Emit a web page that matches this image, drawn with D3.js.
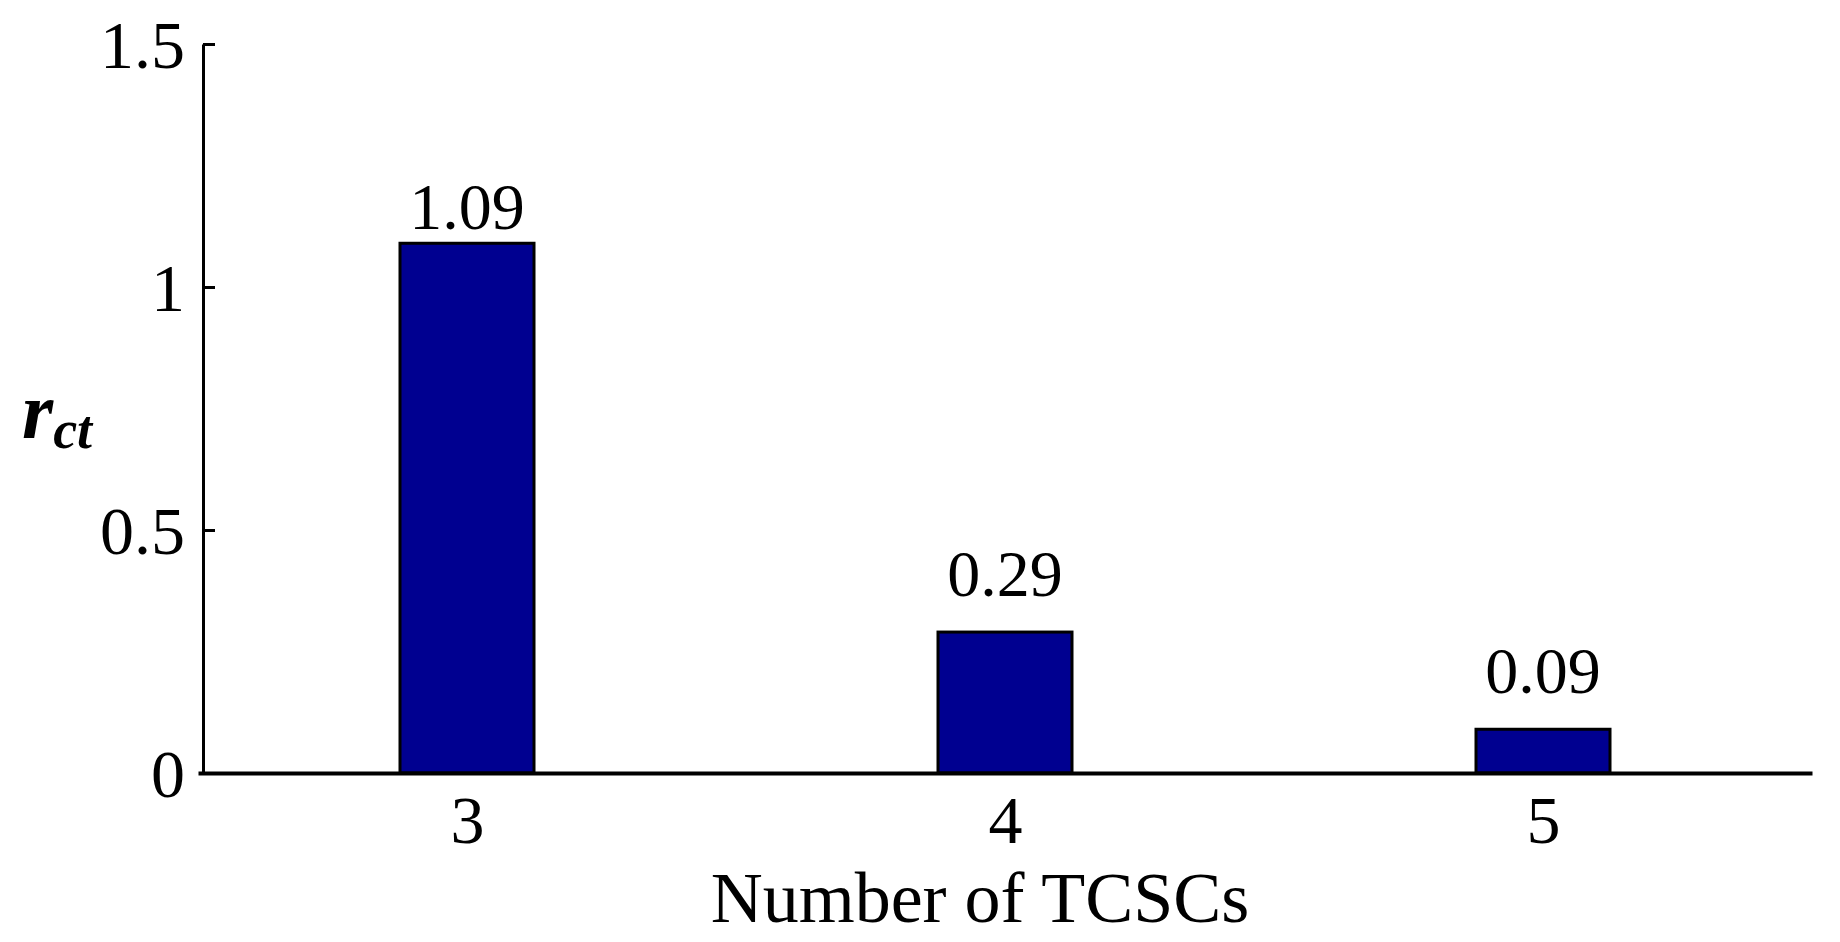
<!DOCTYPE html><html><head><script src="https://d3js.org/d3.v7.min.js"></script>
<style>body{margin:0;background:#fff}</style></head><body><svg width="1840" height="942"></svg><script>
const categories=[3,4,5];
const values=[1.09,0.29,0.09];
const labels=["1.09","0.29","0.09"];
const yTicks=[0,0.5,1,1.5];
const yTickLabels=["0","0.5","1","1.5"];
const svg=d3.select("svg");
const font="'Liberation Serif','Times New Roman',serif";
const x=d3.scaleLinear().domain([2.5,5.5]).range([198,1812]);
const y=d3.scaleLinear().domain([0,1.5]).range([773,44]);
const bw=134;
svg.selectAll("rect").data(values).enter().append("rect")
 .attr("x",(d,i)=>x(categories[i])-bw/2).attr("width",bw)
 .attr("y",d=>y(d)).attr("height",d=>y(0)-y(d))
 .attr("fill","#000090").attr("stroke","#000").attr("stroke-width",3);
svg.selectAll(".vl").data(values).enter().append("text")
 .attr("x",(d,i)=>x(categories[i])).attr("y",(d,i)=>y(d)-(i===0?14:36))
 .attr("text-anchor","middle").attr("font-family",font).attr("font-size",66)
 .text((d,i)=>labels[i]);
const ya=svg.append("g").attr("transform","translate(203,0)")
 .call(d3.axisLeft(y).tickValues(yTicks).tickFormat((d,i)=>yTickLabels[i]).tickSizeInner(-12).tickSizeOuter(0).tickPadding(18));
ya.select(".domain").attr("stroke-width",3);
ya.selectAll("line").attr("stroke-width",3);
ya.selectAll("text").attr("font-family",font).attr("font-size",68).attr("dy","0.35em");
const xa=svg.append("g").attr("transform","translate(0,773)")
 .call(d3.axisBottom(x).tickValues(categories).tickFormat(d3.format("d")).tickSize(0).tickSizeOuter(0).tickPadding(22));
xa.select(".domain").attr("stroke-width",4);
xa.selectAll("text").attr("font-family",font).attr("font-size",68).attr("dy","0.71em");
svg.append("text").attr("x",980).attr("y",922).attr("text-anchor","middle")
 .attr("font-family",font).attr("font-size",72).text("Number of TCSCs");
const t=svg.append("text").attr("x",22).attr("y",438).attr("font-family",font)
 .attr("font-weight","bold").attr("font-style","italic");
t.append("tspan").attr("font-size",80).text("r");
t.append("tspan").attr("font-size",54).attr("dy",10).text("ct");
</script></body></html>
